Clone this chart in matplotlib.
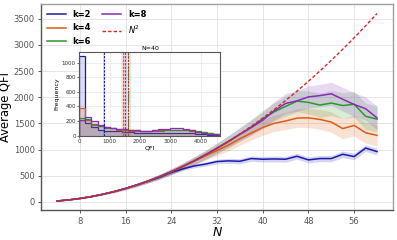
import numpy as np
import matplotlib
matplotlib.use("Agg")
import matplotlib.pyplot as plt

# ---------------- data ----------------
N = [4, 6, 8, 10, 12, 14, 16, 18, 20, 22, 24, 26, 28, 30, 32, 34, 36, 38, 40,
     42, 44, 46, 48, 50, 52, 54, 56, 58, 60]

qfi_k2 = [16, 36, 64, 100, 144, 196, 256, 322, 395, 470, 560, 630, 685, 722, 770,
          783, 775, 827, 814, 820, 814, 871, 801, 827, 827, 909, 865, 1028, 960]
qfi_k4 = [16, 36, 64, 100, 144, 196, 256, 324, 400, 484, 576, 672, 775, 880, 980,
          1085, 1205, 1315, 1420, 1500, 1545, 1600, 1605, 1575, 1525, 1400, 1460, 1320, 1270]
qfi_k6 = [16, 36, 64, 100, 144, 196, 256, 324, 400, 484, 576, 676, 784, 900, 1024,
          1150, 1290, 1430, 1590, 1720, 1824, 1925, 1900, 1850, 1888, 1840, 1865, 1635, 1580]
qfi_k8 = [16, 36, 64, 100, 144, 196, 256, 324, 400, 484, 576, 676, 784, 900, 1024,
          1156, 1290, 1420, 1560, 1740, 1880, 1930, 2005, 2030, 2065, 1960, 1860, 1780, 1604]

err_k2 = [2, 3, 5, 7, 9, 11, 14, 17, 20, 24, 28, 32, 36, 40, 44, 48, 50, 52, 54,
          55, 56, 57, 58, 59, 60, 61, 62, 64, 65]
err_k4 = [2, 4, 7, 10, 14, 19, 25, 31, 38, 46, 55, 64, 74, 85, 96, 108, 120, 132, 145,
          155, 165, 175, 185, 190, 195, 195, 200, 200, 200]
err_k6 = [2, 4, 7, 10, 14, 19, 25, 31, 38, 46, 55, 64, 74, 85, 98, 112, 128, 145, 160,
          175, 190, 205, 220, 230, 240, 245, 250, 250, 250]
err_k8 = [2, 4, 7, 10, 14, 19, 25, 31, 38, 46, 55, 64, 74, 85, 98, 112, 128, 145, 160,
          175, 190, 200, 210, 215, 220, 225, 225, 225, 225]

labels = ["k=2", "k=4", "k=6", "k=8"]
colors = ["#1a1ab0", "#e05a10", "#2a9a2a", "#8a2ab8"]
ref_color = "#d62728"

# inset histogram (N=40), bins of width 200 from 0 to 4600
bin_edges = list(range(0, 4601, 200))
hist_k2 = [1090, 175, 112, 75, 68, 62, 58, 50, 45, 40, 38, 35, 32, 32, 35, 38, 36, 34, 30, 25, 18, 10, 5]
hist_k4 = [372, 212, 145, 130, 118, 100, 80, 75, 68, 62, 60, 62, 65, 68, 72, 75, 76, 70, 62, 55, 45, 35, 20]
hist_k6 = [235, 230, 160, 130, 110, 100, 92, 88, 78, 70, 65, 68, 72, 75, 80, 82, 80, 78, 72, 60, 48, 35, 20]
hist_k8 = [215, 255, 195, 150, 120, 105, 95, 88, 80, 72, 65, 65, 72, 85, 95, 100, 98, 90, 75, 55, 40, 25, 15]
inset_means = [812, 1440, 1620, 1510]
inset_err = [40, 70, 70, 60]
inset_ref = 1600

# ---------------- plot ----------------
fig = plt.figure(figsize=(3.97, 2.40), dpi=100)
ax = fig.add_axes([0.1033, 0.123, 0.8867, 0.86])

Na = np.array(N)
series = [qfi_k2, qfi_k4, qfi_k6, qfi_k8]
errs = [err_k2, err_k4, err_k6, err_k8]
for y, e, c, lab in zip(series, errs, colors, labels):
    y = np.array(y); e = np.array(e)
    ax.fill_between(Na, y - e, y + e, color=c, alpha=0.18, lw=0)
    ax.plot(Na, y, color=c, lw=1.1, label=lab)
ax.plot(Na, Na ** 2, color=ref_color, lw=1.0, ls=(0, (2.5, 1.5)), label="$N^2$")

ax.set_xticks([8, 16, 24, 32, 40, 48, 56])
ax.set_yticks(range(0, 3501, 500))
ax.grid(True, color="#e6e6e6", lw=0.7)
ax.set_axisbelow(True)
for s in ax.spines.values():
    s.set_color("#a0a0a0")
    s.set_linewidth(1.0)
ax.spines["bottom"].set_color("#555555")
ax.spines["left"].set_color("#555555")
ax.tick_params(labelsize=6, colors="#555555", length=2.5, width=0.7, pad=2)
ax.set_ylabel("Average QFI", fontsize=8.3, labelpad=1.5)
ax.set_xlabel("$N$", fontsize=9, labelpad=0)

leg = ax.legend(loc="upper left", ncol=2, frameon=False, prop={"size": 6, "weight": "bold"},
                handlelength=2.3, columnspacing=1.3, labelspacing=0.55,
                borderaxespad=0.3, handletextpad=0.8)

# ---------------- inset ----------------
axi = fig.add_axes([0.1997, 0.4354, 0.3557, 0.3467])
hists = [hist_k2, hist_k4, hist_k6, hist_k8]
for h, c in zip(hists, colors):
    axi.stairs(h, bin_edges, fill=True, color=c, alpha=0.15, lw=0)
    axi.stairs(h, bin_edges, color=c, lw=0.9)
for m, e, c in zip(inset_means, inset_err, colors):
    axi.axvspan(m - e, m + e, color=c, alpha=0.15, lw=0)
    axi.axvline(m, color=c, lw=0.8, ls=(0, (2, 1.2)))
axi.axvline(inset_ref, color=ref_color, lw=0.7, ls=(0, (2, 1.2)))
axi.set_xlim(0, 4650)
axi.set_xticks([0, 1000, 2000, 3000, 4000])
axi.set_yticks(range(0, 1001, 200))
axi.grid(True, color="#e6e6e6", lw=0.5)
axi.set_axisbelow(True)
for s in axi.spines.values():
    s.set_color("#555555")
    s.set_linewidth(0.8)
axi.tick_params(labelsize=4, colors="#333333", length=1.5, width=0.5, pad=1)
axi.set_title("N=40", fontsize=4.5, pad=2)
axi.set_xlabel("QFI", fontsize=4.5, labelpad=1)
axi.set_ylabel("Frequency", fontsize=4.5, labelpad=2)

fig.savefig("out.png", dpi=100)
